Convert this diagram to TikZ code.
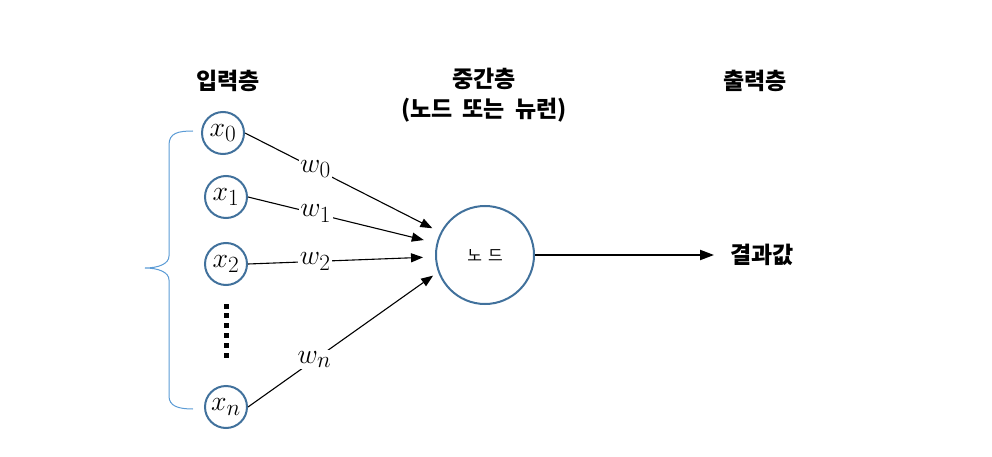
\RequirePackage{fix-cm}
\documentclass[tikz,border=0pt]{standalone}
\usepackage{graphicx}
\usepackage{fontspec}
\newfontfamily\kr{Noto Sans CJK KR}
\usetikzlibrary{arrows.meta}
\definecolor{nodeblue}{HTML}{41719C}
\definecolor{braceblue}{HTML}{5B9BD5}
\newcommand{\mymath}[1]{\scalebox{1.12}{$#1$}}
\begin{document}
\begin{tikzpicture}[x=1pt,y=-1pt,
  innode/.style={circle,draw=nodeblue,line width=2pt,minimum size=42pt,inner sep=0pt,font=\fontsize{24.88}{26}\selectfont},
  midnode/.style={circle,draw=nodeblue,line width=2pt,minimum size=98pt,inner sep=0pt,font=\kr\fontsize{16}{16}\selectfont},
  head/.style={font=\kr\bfseries\fontsize{23}{30}\selectfont,align=center,inner sep=2pt},
  wlab/.style={fill=white,inner sep=1.5pt,font=\fontsize{24.88}{26}\selectfont},
  conn/.style={line width=1.1pt,-{Triangle[length=12pt,width=9pt]}},
  outconn/.style={line width=2pt,-{Triangle[length=14pt,width=10pt]}},
  bracestyle/.style={draw=braceblue,line width=1pt}
]
\useasboundingbox (0,0) rectangle (992,457);

% headers
\node[head] (hin) at (228,81) {입력층};
\node[head] (hmid) at (484,95) {중간층\\(노드\hspace{0.2em} 또는\hspace{0.2em} 뉴런)};
\node[head] (hout) at (755,81) {출력층};

% input nodes
\node[innode] (x0) at (223,133) {\mymath{x_0}};
\node[innode] (x1) at (226,197) {\mymath{x_1}};
\node[innode] (x2) at (226,264) {\mymath{x_2}};
\node[innode] (xn) at (226,407) {\mymath{x_n}};

% middle node
\node[midnode] (mid) at (485,255) {노\kern6pt 드};

% result
\node[head] (res) at (762,255) {결과값};

% connectors
\draw[conn, shorten >=9pt] (x0.east) -- node[wlab,pos=0.36] (w0) {\mymath{w_0}} (mid);
\draw[conn, shorten >=13pt] (x1.east) -- node[wlab,pos=0.36] (w1) {\mymath{w_1}} (mid);
\draw[conn, shorten >=12pt] (x2.east) -- node[wlab,pos=0.36] (w2) {\mymath{w_2}} (mid);
\draw[conn, shorten >=6pt] (xn.east) -- node[wlab,pos=0.35] (wn) {\mymath{w_n}} (mid.200);
\draw[outconn, shorten >=14pt] (mid) -- (res);

% vertical dots
\foreach \k in {0,...,5}
  \fill (223.5,303.5+9.8*\k) rectangle ++(5,5);

% brace
\draw[bracestyle] (193,131) .. controls (178,131) and (169,133) .. (169,145)
  -- (169,256) .. controls (169,264) and (158,268) .. (145,268)
  .. controls (158,268) and (169,272) .. (169,280)
  -- (169,396) .. controls (169,406) and (178,409) .. (193,409);
\end{tikzpicture}
\end{document}
